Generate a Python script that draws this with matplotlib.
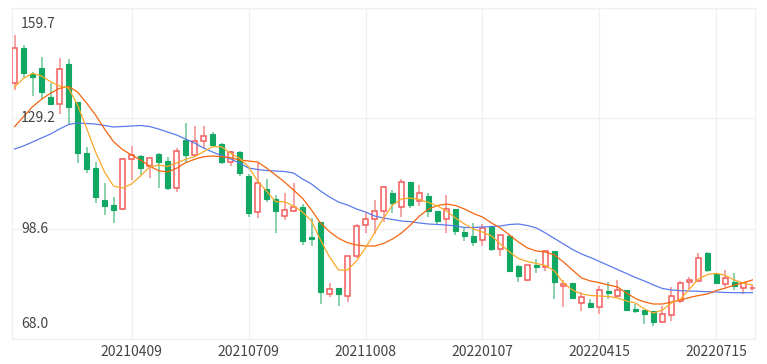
import matplotlib
matplotlib.use("Agg")
import matplotlib.pyplot as plt
import matplotlib.transforms as mtransforms
import pandas as pd

# weekly trading dates (Spring Festival week 2022-02-04 has no bar)
dates = [d.strftime("%Y%m%d") for d in pd.date_range("2021-01-08", "2022-08-12", freq="W-FRI")]
dates = [d for d in dates if d != "20220204"]

open_ = [138.84, 148.54, 141.33, 143.16, 134.96, 133.10, 144.19, 133.74, 119.61, 115.46,
         106.51, 105.12, 103.93, 117.78, 118.70, 116.01, 119.17, 117.31, 109.75, 123.13,
         118.98, 122.85, 124.71, 121.94, 116.95, 119.72, 113.16, 103.32, 109.47, 106.70,
         102.16, 103.54, 104.49, 96.20, 100.36, 80.33, 82.05, 80.05, 90.99, 99.58,
         101.11, 103.54, 108.53, 104.65, 111.58, 106.15, 107.62, 103.54, 101.16, 103.93,
         97.56, 96.62, 95.43, 99.03, 92.85, 96.54, 88.36, 84.26, 88.50, 87.95,
         92.38, 82.77, 83.51, 78.03, 78.06, 76.95, 81.30, 79.91, 81.57, 76.31,
         76.03, 75.62, 72.79, 74.65, 78.39, 83.71, 84.07, 91.83, 86.09, 83.32,
         83.88, 82.05, 82.05]
high = [152.22, 149.45, 141.97, 146.21, 138.92, 145.76, 145.49, 133.74, 121.27, 117.12,
        111.30, 107.42, 118.01, 121.52, 118.84, 118.50, 119.61, 118.50, 121.00, 127.92,
        127.01, 127.01, 125.26, 122.38, 120.17, 120.17, 113.71, 116.68, 112.41, 107.81,
        108.45, 111.22, 105.40, 101.47, 100.36, 83.43, 82.05, 90.86, 99.80, 102.82,
        106.37, 110.39, 109.28, 112.41, 111.58, 110.66, 108.36, 103.54, 107.89, 103.93,
        98.67, 100.05, 99.94, 99.31, 96.81, 96.81, 88.50, 88.42, 90.11, 92.52,
        92.38, 84.35, 83.51, 80.97, 79.08, 82.74, 83.88, 84.21, 81.57, 77.78,
        76.03, 75.76, 77.28, 82.41, 83.99, 85.18, 91.91, 92.10, 86.09, 87.12,
        86.42, 83.43, 82.96]
low = [136.98, 140.22, 135.32, 134.49, 132.83, 130.25, 127.56, 116.68, 114.07, 105.76,
       102.35, 100.05, 103.60, 112.05, 113.43, 112.69, 109.92, 109.28, 108.81, 117.12,
       118.70, 121.00, 121.47, 116.40, 115.93, 113.16, 101.72, 101.44, 106.04, 97.45,
       100.97, 103.10, 94.04, 93.90, 77.83, 79.64, 77.20, 78.33, 90.36, 97.37,
       97.09, 100.50, 102.82, 101.88, 104.35, 104.85, 101.72, 99.72, 97.28, 96.73,
       95.07, 93.68, 93.76, 92.38, 91.05, 86.56, 83.88, 84.07, 86.28, 86.92,
       79.00, 76.78, 79.36, 75.84, 76.78, 74.93, 79.03, 79.64, 76.12, 75.29,
       72.16, 71.74, 72.52, 73.07, 77.89, 81.91, 83.93, 86.64, 83.43, 82.27,
       81.49, 80.47, 81.30]
close = [148.54, 141.61, 140.50, 136.51, 133.10, 142.72, 132.19, 119.45, 115.01, 107.26,
         104.93, 103.74, 117.78, 118.84, 115.46, 118.06, 117.12, 109.75, 120.08, 118.98,
         122.85, 124.24, 121.75, 116.95, 119.72, 114.07, 102.82, 111.30, 106.79, 103.54,
         103.74, 104.49, 95.23, 95.76, 81.10, 81.99, 80.33, 90.86, 99.44, 101.16,
         103.54, 110.11, 105.76, 111.58, 105.12, 108.36, 103.54, 100.61, 103.93, 97.98,
         96.59, 94.79, 98.67, 92.85, 96.73, 86.92, 85.45, 88.42, 87.86, 92.30,
         83.88, 83.15, 79.44, 79.72, 76.87, 81.57, 80.66, 81.71, 76.17, 75.84,
         74.87, 72.79, 74.84, 80.05, 83.51, 84.21, 90.44, 87.03, 83.51, 84.82,
         82.68, 83.43, 82.18]

# moving average lines
ma5 = [137.81, 140.22, 141.61, 140.86, 139.28, 138.09, 137.54, 132.83, 126.46, 119.81,
       114.27, 110.39, 109.83, 110.94, 113.16, 115.65, 116.20, 115.79, 116.76, 117.78,
       118.50, 119.89, 121.27, 121.27, 119.45, 118.06, 115.73, 111.77, 109.00, 106.04,
       106.04, 104.85, 103.18, 100.69, 95.43, 90.72, 87.12, 87.12, 89.61, 93.21,
       97.37, 101.52, 105.12, 106.79, 107.06, 106.65, 105.82, 104.85, 103.46, 101.52,
       99.86, 98.47, 97.64, 96.54, 94.32, 92.10, 90.30, 89.47, 88.92, 88.36,
       86.84, 83.51, 81.57, 80.47, 80.05, 79.91, 79.77, 79.36, 78.53, 77.97,
       76.31, 75.20, 76.03, 77.97, 79.08, 81.85, 84.62, 85.87, 86.20, 85.59,
       84.35, 83.43, 82.96]
ma10 = [126.82, 129.59, 132.36, 134.41, 136.07, 137.45, 137.95, 136.43, 133.38, 130.06,
        126.18, 122.66, 120.50, 118.98, 117.59, 115.93, 114.63, 114.27, 115.29, 116.84,
        117.78, 118.50, 118.70, 118.50, 118.23, 117.59, 117.31, 117.04, 115.37, 113.43,
        111.50, 109.28, 106.98, 103.74, 100.14, 97.73, 95.90, 94.68, 94.04, 93.76,
        93.76, 94.46, 95.70, 97.37, 99.58, 102.08, 104.01, 104.98, 105.40, 104.98,
        104.01, 102.77, 101.80, 100.14, 98.75, 96.81, 94.87, 93.21, 92.38, 92.10,
        91.27, 89.33, 87.12, 84.90, 84.07, 83.60, 82.96, 82.41, 80.74, 79.22,
        78.25, 77.70, 77.70, 78.25, 78.80, 79.50, 80.05, 80.47, 81.44, 82.13,
        82.96, 83.65, 84.35]
ma30 = [120.64, 121.47, 122.58, 123.68, 124.79, 126.18, 127.43, 127.84, 127.70, 127.56,
        127.15, 126.73, 126.87, 127.01, 127.15, 126.87, 126.18, 125.35, 124.52, 123.41,
        122.30, 120.91, 119.81, 118.84, 117.87, 116.76, 115.37, 114.96, 114.68, 114.54,
        114.40, 113.99, 112.33, 110.94, 109.00, 107.34, 105.95, 105.12, 104.01, 103.18,
        102.08, 101.52, 101.11, 100.69, 100.50, 100.14, 99.86, 99.72, 99.58, 99.31,
        98.89, 98.89, 99.03, 99.17, 99.31, 99.72, 99.86, 99.44, 98.75, 97.37,
        95.84, 94.32, 92.80, 91.55, 90.58, 89.47, 88.36, 87.25, 86.15, 85.04,
        84.07, 82.96, 81.99, 81.57, 81.38, 81.30, 81.21, 81.10, 81.02, 80.88,
        80.83, 80.83, 80.83]

y_ticks = [68.0, 98.6, 129.2, 159.7]
y_tick_labels = ["68.0", "98.6", "129.2", "159.7"]
x_tick_labels = ["20210409", "20210709", "20211008", "20220107", "20220415", "20220715"]

UP_EDGE = "#f25b5b"
UP_WICK = "#f59d9d"
DOWN_FILL = "#10a862"
DOWN_WICK = "#7fcfa5"
GRID = "#f0f0f0"
TEXT = "#444444"
FONT = ["Noto Sans CJK SC", "DejaVu Sans"]

fig = plt.figure(figsize=(7.67, 3.64), dpi=100)
fig.patch.set_facecolor("white")
ax = fig.add_axes([12 / 767, 25 / 364, 743 / 767, 331 / 364])

x = list(range(len(dates)))
width = 0.66
for i in x:
    o, h, l, c = open_[i], high[i], low[i], close[i]
    up = c >= o
    ax.vlines(i, l, h, color=UP_WICK if up else DOWN_WICK, lw=1.3, zorder=2)
    body = max(abs(c - o), 0.12)
    if up:
        ax.bar(i, body, bottom=o, width=width, facecolor="white",
               edgecolor=UP_EDGE, linewidth=1.1, zorder=3)
    else:
        ax.bar(i, body, bottom=c, width=width, facecolor=DOWN_FILL,
               edgecolor=DOWN_FILL, linewidth=0.8, zorder=3)

ax.plot(x, ma30, color="#5b7bec", lw=0.9, zorder=4)
ax.plot(x, ma10, color="#f5650f", lw=0.9, zorder=5)
ax.plot(x, ma5, color="#fba92a", lw=0.9, zorder=6)

ax.set_xlim(-0.28, len(dates) - 0.72)
ax.set_ylim(y_ticks[0], y_ticks[-1])

tick_pos = [dates.index(t) for t in x_tick_labels]
ax.set_xticks(tick_pos)
ax.set_xticklabels(x_tick_labels, fontsize=10, color=TEXT, family=FONT)
ax.set_yticks(y_ticks)
ax.set_yticklabels([])
ax.tick_params(axis="both", length=0)
ax.tick_params(axis="x", pad=4)
ax.grid(True, color=GRID, lw=1, zorder=0)
ax.set_axisbelow(True)
for s in ax.spines.values():
    s.set_color(GRID)
    s.set_linewidth(1)

# y labels sit inside the plot
base = mtransforms.blended_transform_factory(ax.transAxes, ax.transData)
for val, lab in zip(y_ticks, y_tick_labels):
    dy = 0
    if val == y_ticks[-1]:
        dy = -16
    elif val == y_ticks[0]:
        dy = 15
    tr = mtransforms.offset_copy(base, fig=fig, x=9, y=dy, units="dots")
    ax.text(0, val, lab, transform=tr, ha="left", va="center",
            fontsize=10, color=TEXT, family=FONT, zorder=7)

fig.savefig("out.png", dpi=100, facecolor="white")
